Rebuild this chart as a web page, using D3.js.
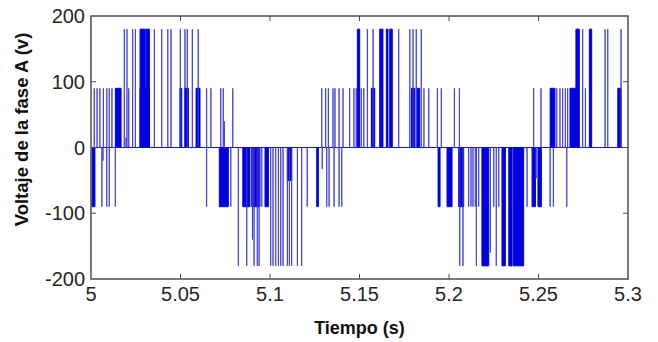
<!DOCTYPE html>
<html>
<head>
<meta charset="utf-8">
<script src="https://cdn.jsdelivr.net/npm/d3@7"></script>
<style>
  body { margin: 0; background: #fff; }
  svg { display: block; font-family: "Liberation Sans", Arial, sans-serif; }
</style>
</head>
<body>
<svg width="658" height="342"></svg>
<script>
// pulses: [start (s), end (s), level (V)]; start == end is a single switching spike
const pulsesA = [
  [5.0006, 5.0022, -90], [5.0018, 5.0018, 90], [5.0034, 5.0034, 90], [5.0050, 5.0050, 90],
  [5.0061, 5.0061, -90], [5.0067, 5.0067, -20], [5.0069, 5.0069, 90], [5.0088, 5.0088, 90],
  [5.0088, 5.0088, -90], [5.0102, 5.0102, 90], [5.0102, 5.0102, -90], [5.0117, 5.0117, 90],
  [5.0136, 5.0136, -90], [5.0136, 5.0168, 90], [5.0186, 5.0186, 180], [5.0196, 5.0196, 15],
  [5.0201, 5.0201, 180], [5.0211, 5.0211, 90], [5.0233, 5.0233, 180], [5.0248, 5.0248, 180],
  [5.0274, 5.0326, 90], [5.0274, 5.0303, 180], [5.0308, 5.0326, 180], [5.0354, 5.0354, 180],
  [5.0395, 5.0395, 180], [5.0429, 5.0429, 180], [5.0447, 5.0447, 180], [5.0497, 5.0507, 90],
  [5.0499, 5.0499, 180]
];
const pulsesB = [
  [5.0525, 5.0525, 180], [5.0525, 5.0544, 90], [5.0538, 5.0538, 180], [5.0566, 5.0566, 180],
  [5.0587, 5.0609, 90], [5.0599, 5.0599, 180], [5.0646, 5.0646, 90], [5.0646, 5.0646, -90],
  [5.0670, 5.0670, 90], [5.0717, 5.0767, -90], [5.0725, 5.0725, 90], [5.0739, 5.0739, 90],
  [5.0745, 5.0745, 40], [5.0781, 5.0781, -90], [5.0792, 5.0792, 90], [5.0823, 5.0823, -180],
  [5.0848, 5.0888, -90], [5.0870, 5.0870, -180], [5.0898, 5.0944, -90], [5.0902, 5.0902, -140],
  [5.0911, 5.0911, -180], [5.0929, 5.0929, -180], [5.0939, 5.0939, -180], [5.0954, 5.0954, -90],
  [5.0972, 5.0991, -90]
];
const pulsesC = [
  [5.1004, 5.1004, -180], [5.1017, 5.1017, -180], [5.1032, 5.1032, -180], [5.1047, 5.1047, -180],
  [5.1060, 5.1060, -180], [5.1073, 5.1073, -180], [5.1097, 5.1121, -50], [5.1097, 5.1097, -180],
  [5.1108, 5.1108, -180], [5.1121, 5.1121, -180], [5.1153, 5.1153, -180], [5.1177, 5.1177, -180],
  [5.1208, 5.1208, -90], [5.1261, 5.1270, -90], [5.1292, 5.1292, -33], [5.1317, 5.1317, -90],
  [5.1330, 5.1330, -90], [5.1358, 5.1358, -90], [5.1386, 5.1386, -90], [5.1401, 5.1401, -90],
  [5.1289, 5.1289, 90], [5.1311, 5.1311, 90], [5.1326, 5.1326, 90], [5.1352, 5.1352, 90],
  [5.1363, 5.1363, 90], [5.1386, 5.1386, 90], [5.1408, 5.1408, 90], [5.1445, 5.1445, 90],
  [5.1469, 5.1469, 90], [5.1482, 5.1482, 90], [5.1488, 5.1501, 180]
];
const pulsesD = [
  [5.1510, 5.1510, 90], [5.1524, 5.1524, 90], [5.1544, 5.1544, 180], [5.1566, 5.1585, 90],
  [5.1576, 5.1576, 180], [5.1613, 5.1631, 180], [5.1650, 5.1659, 180], [5.1669, 5.1683, 180],
  [5.1719, 5.1719, 180], [5.1781, 5.1781, 180], [5.1790, 5.1809, 90], [5.1799, 5.1799, 180],
  [5.1817, 5.1817, 180], [5.1823, 5.1836, 90], [5.1845, 5.1845, 180], [5.1860, 5.1860, 90],
  [5.1887, 5.1887, 90], [5.1935, 5.1935, 90], [5.1939, 5.1950, -90], [5.1957, 5.1957, 90]
];
const pulsesE = [
  [5.1989, 5.2017, -90], [5.2030, 5.2030, 90], [5.2058, 5.2058, 90], [5.2054, 5.2082, -90],
  [5.2060, 5.2060, -180], [5.2078, 5.2078, -180], [5.2110, 5.2110, -90], [5.2123, 5.2123, -90],
  [5.2134, 5.2134, -90], [5.2147, 5.2147, -90], [5.2153, 5.2153, -180], [5.2166, 5.2166, -90],
  [5.2184, 5.2222, -180], [5.2231, 5.2231, -160], [5.2250, 5.2250, -90], [5.2264, 5.2264, -180],
  [5.2278, 5.2278, -90], [5.2296, 5.2315, -180], [5.2334, 5.2352, -180], [5.2358, 5.2417, -180],
  [5.2436, 5.2436, -90], [5.2464, 5.2483, -90], [5.2473, 5.2473, 90]
];
const pulsesF = [
  [5.2487, 5.2487, -47], [5.2497, 5.2516, -90], [5.2514, 5.2514, 90], [5.2565, 5.2565, -90],
  [5.2583, 5.2583, -90], [5.2658, 5.2658, -90], [5.2565, 5.2592, 90], [5.2602, 5.2602, 90],
  [5.2620, 5.2620, 90], [5.2635, 5.2635, 90], [5.2650, 5.2650, 90], [5.2663, 5.2663, 90],
  [5.2676, 5.2709, 90], [5.2709, 5.2728, 180], [5.2747, 5.2747, 180], [5.2762, 5.2762, 90],
  [5.2784, 5.2797, 180], [5.2872, 5.2872, 180], [5.2887, 5.2887, 180], [5.2943, 5.2961, 90],
  [5.2961, 5.2961, 180]
];

const timeDomain = [5, 5.3];
const voltDomain = [-200, 200];
const xTicks = [5, 5.05, 5.1, 5.15, 5.2, 5.25, 5.3];
const yTicks = [-200, -100, 0, 100, 200];

const margin = {top: 16, right: 30, bottom: 63, left: 91};
const width = 658, height = 342;

const svg = d3.select('svg');

const x = d3.scaleLinear().domain(timeDomain).range([margin.left, width - margin.right]);
const y = d3.scaleLinear().domain(voltDomain).range([height - margin.bottom, margin.top]);

const pulses = [...pulsesA, ...pulsesB, ...pulsesC, ...pulsesD, ...pulsesE, ...pulsesF];

const plot = svg.append('g');

// zero level running through the whole window
plot.append('path')
    .attr('d', d3.line().x(d => x(d)).y(y(0))(timeDomain))
    .attr('stroke', '#1414d8')
    .attr('stroke-width', 1.2)
    .attr('fill', 'none');

const area = d3.area()
    .x(d => x(d.t))
    .y0(y(0))
    .y1(d => y(d.v));

// wide pulses are solid, single spikes come out a bit lighter like the antialiased trace
plot.selectAll('path.pulse')
    .data(pulses)
    .join('path')
    .attr('class', 'pulse')
    .attr('d', d => area([{t: d[0], v: d[2]}, {t: d[1], v: d[2]}]))
    .attr('fill', '#0000e0')
    .attr('stroke', d => d[1] > d[0] ? '#0000e0' : '#3a3ad2')
    .attr('stroke-opacity', d => d[1] > d[0] ? 1 : 0.85)
    .attr('stroke-width', 1);

// MATLAB-like box with inward ticks on all four sides
const frame = svg.append('g').attr('stroke', '#4d4d4d').attr('fill', 'none');
frame.append('rect')
    .attr('x', x(timeDomain[0])).attr('y', y(voltDomain[1]))
    .attr('width', x(timeDomain[1]) - x(timeDomain[0]))
    .attr('height', y(voltDomain[0]) - y(voltDomain[1]))
    .attr('stroke-width', 1.5);

const tl = 5;
frame.selectAll('g.xt')
    .data(xTicks.slice(1, -1))
    .join(enter => {
      const g = enter.append('g').attr('class', 'xt');
      g.append('line').attr('x1', d => x(d)).attr('x2', d => x(d))
          .attr('y1', y(-200)).attr('y2', y(-200) - tl);
      g.append('line').attr('x1', d => x(d)).attr('x2', d => x(d))
          .attr('y1', y(200)).attr('y2', y(200) + tl);
      return g;
    });
frame.selectAll('g.yt')
    .data(yTicks.slice(1, -1))
    .join(enter => {
      const g = enter.append('g').attr('class', 'yt');
      g.append('line').attr('y1', d => y(d)).attr('y2', d => y(d))
          .attr('x1', x(5)).attr('x2', x(5) + tl);
      g.append('line').attr('y1', d => y(d)).attr('y2', d => y(d))
          .attr('x1', x(5.3)).attr('x2', x(5.3) - tl);
      return g;
    });

const labels = svg.append('g').attr('fill', '#262626').attr('font-size', 20);

labels.selectAll('text.xl')
    .data(xTicks)
    .join('text')
    .attr('class', 'xl')
    .attr('x', d => x(d))
    .attr('y', y(-200) + 22)
    .attr('text-anchor', 'middle')
    .text(d => d3.format('~g')(d));

labels.selectAll('text.yl')
    .data(yTicks)
    .join('text')
    .attr('class', 'yl')
    .attr('x', x(5) - 6)
    .attr('y', d => y(d) + 7)
    .attr('text-anchor', 'end')
    .text(d => d);

svg.append('text')
    .attr('x', (x(5) + x(5.3)) / 2)
    .attr('y', 334)
    .attr('text-anchor', 'middle')
    .attr('font-weight', 'bold')
    .attr('font-size', 18)
    .attr('fill', '#111')
    .text('Tiempo (s)');

svg.append('text')
    .attr('transform', `translate(28,${(y(200) + y(-200)) / 2 - 18}) rotate(-90)`)
    .attr('text-anchor', 'middle')
    .attr('font-weight', 'bold')
    .attr('font-size', 18.5)
    .attr('fill', '#111')
    .text('Voltaje de la fase A (v)');
</script>
</body>
</html>
